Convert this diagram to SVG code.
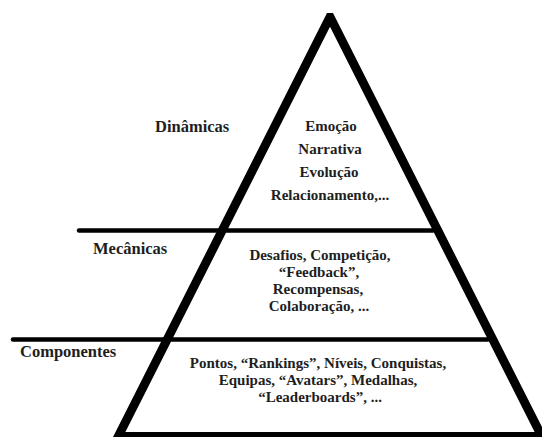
<svg xmlns="http://www.w3.org/2000/svg" width="542" height="439" viewBox="0 0 542 439">
<style>
.t{font-family:'Liberation Serif','DejaVu Serif',serif;font-weight:bold;fill:#1e1e1e}
.c{font-size:15px;text-anchor:middle}
.l{font-size:16.5px}
.hl{stroke:#000;stroke-width:4.5;stroke-linecap:round;fill:none}
</style>
<rect width="542" height="439" fill="#fff"/>
<g id="pyramid">
<path d="M327,13 L333,13 L547,437 L113,437 Z M330,26.8 L125.4,432 L534.6,432 Z" fill="#000" fill-rule="evenodd"/>
</g>
<g id="connectors">
<line class="hl" x1="79" y1="230.5" x2="433" y2="230.5"/>
<line class="hl" x1="13" y1="339.5" x2="488" y2="339.5"/>
</g>
<g id="dinamicas">
<text class="t l" x="155" y="132">Dinâmicas</text>
<text class="t c" x="331" y="131">Emoção</text>
<text class="t c" x="330" y="154">Narrativa</text>
<text class="t c" x="329" y="177">Evolução</text>
<text class="t c" x="330" y="200">Relacionamento,...</text>
</g>
<g id="mecanicas">
<text class="t l" x="93" y="254">Mecânicas</text>
<text class="t c" x="320" y="260">Desafios, Competição,</text>
<text class="t c" x="319" y="277">“Feedback”,</text>
<text class="t c" x="318" y="294">Recompensas,</text>
<text class="t c" x="319" y="311">Colaboração, ...</text>
</g>
<g id="componentes">
<text class="t l" x="20" y="357">Componentes</text>
<text class="t c" x="318" y="368">Pontos, “Rankings”, Níveis, Conquistas,</text>
<text class="t c" x="318" y="385">Equipas, “Avatars”, Medalhas,</text>
<text class="t c" x="320" y="402">“Leaderboards”, ...</text>
</g>
</svg>
